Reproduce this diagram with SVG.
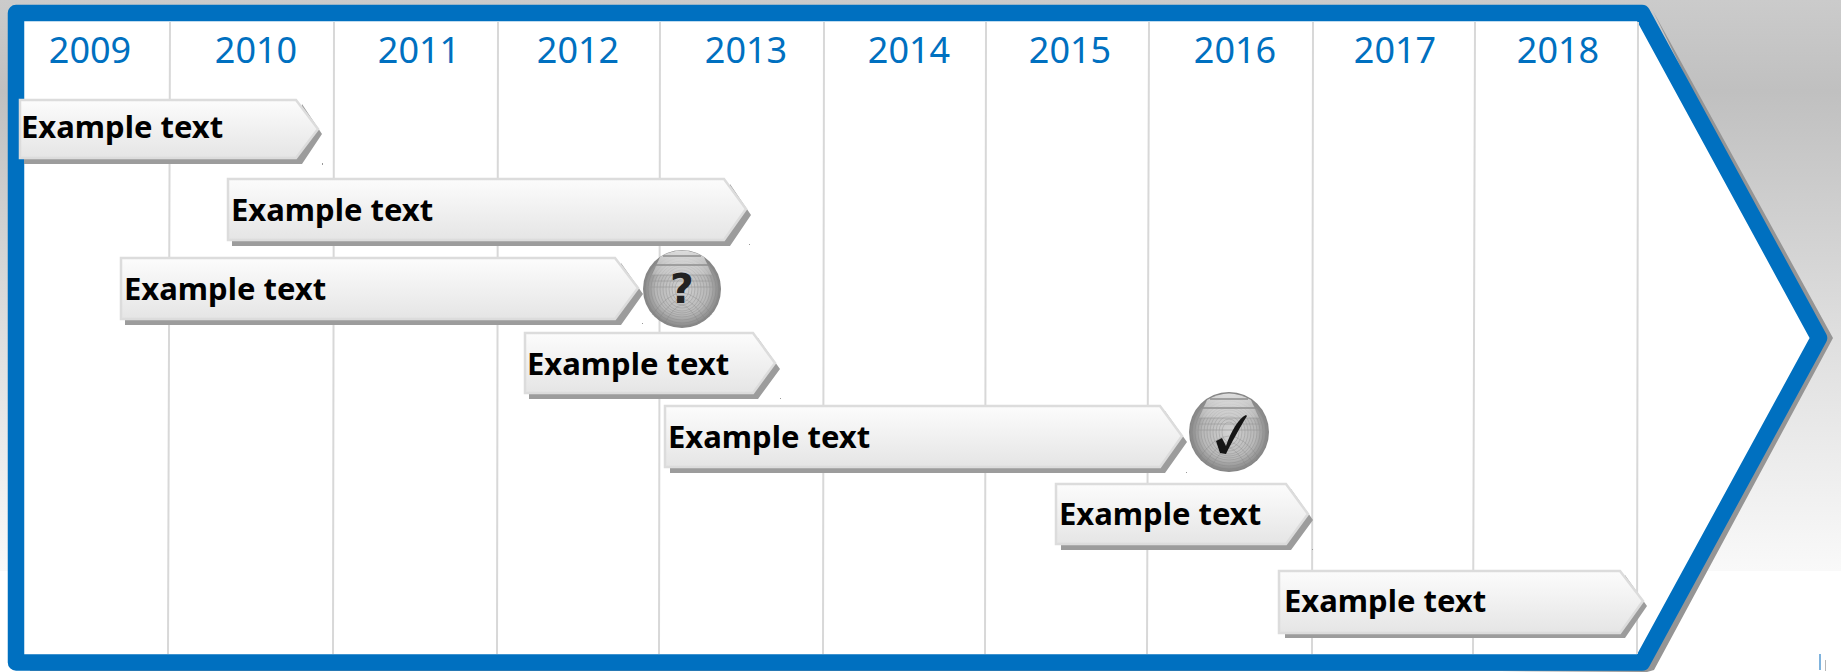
<svg xmlns="http://www.w3.org/2000/svg" width="1841" height="672" viewBox="0 0 1841 672">
<defs>
<linearGradient id="bg" x1="0" y1="0" x2="0" y2="1"><stop offset="0" stop-color="#cbcbcb"/><stop offset="0.16" stop-color="#c0c0c0"/><stop offset="0.55" stop-color="#dcdcdc"/><stop offset="1" stop-color="#f9f9f9"/></linearGradient>
<linearGradient id="bar" x1="0" y1="0" x2="0" y2="1"><stop offset="0" stop-color="#fcfcfc"/><stop offset="1" stop-color="#e5e5e5"/></linearGradient>
<radialGradient id="ball" cx="0.5" cy="0.5" r="0.52"><stop offset="0" stop-color="#d2d2d2"/><stop offset="0.65" stop-color="#b8b8b8"/><stop offset="1" stop-color="#7c7c7c"/></radialGradient>
<linearGradient id="shine" x1="0" y1="0" x2="0" y2="1"><stop offset="0" stop-color="#f4f4f4" stop-opacity="0.8"/><stop offset="1" stop-color="#dcdcdc" stop-opacity="0.35"/></linearGradient>
<g id="rings">
<circle class="ring" r="37"/><circle class="ring" r="34"/><circle class="ring" r="31"/><circle class="ring" r="28"/>
<ellipse class="ring" rx="25" ry="26"/><ellipse class="ring" rx="22" ry="24"/><ellipse class="ring" rx="19" ry="22"/><ellipse class="ring" rx="16" ry="19"/><ellipse class="ring" rx="13" ry="16"/><ellipse class="ring" rx="10" ry="13"/><ellipse class="ring" rx="7" ry="10"/>
<path class="ring" d="M-30 26Q-14 4 0 4Q14 4 30 26M-24 31Q-10 10 0 10Q10 10 24 31M-18 35Q-7 16 0 16Q7 16 18 35"/>
</g>
<g id="gloss">
<path d="M-22 -32Q0 -45 22 -32L30 -14H-30Z" fill="url(#shine)"/>
<path class="band" d="M-19 -33H19M-27 -24H27"/>
<path class="band2" d="M-30 -14H30M-32 -8H32M-34 -2H34"/>
</g>
</defs>
<style>
.yr{font-family:"Noto Sans","Open Sans",sans-serif;font-size:36px;fill:#0070c0;text-anchor:middle}
.lb{font-family:"Noto Sans","Open Sans",sans-serif;font-size:31px;font-weight:700;fill:#000}
.grid{stroke:#d8d8d8;stroke-width:2;fill:none}
.sh{fill:#9c9c9c}
.bar{fill:url(#bar);stroke:#dcdcdc;stroke-width:2.5}
.band{stroke:#8e8e8e;stroke-width:1.500;fill:none}
.band2{stroke:#9a9a9a;stroke-width:1;fill:none;opacity:.7}
.ring{stroke:#7e7e7e;stroke-width:.8;fill:none;opacity:.4}
.spk{fill:#999}
.gl{font-family:"DejaVu Sans",sans-serif;font-weight:700;fill:#222;text-anchor:middle}
</style>
<rect width="1841" height="571" fill="url(#bg)"/>
<rect y="571" width="1841" height="101" fill="#fff"/>
<g id="frame">
<path d="M1653 11L1833 338L1654 670L1647 672L1500 671H30V660H1640L1815 338Z" fill="#959595"/>
<path d="M16 13H1642L1819 338L1642 662.500H16Z" fill="#fff" stroke="#0070c0" stroke-width="16.500" stroke-linejoin="round"/>
</g>
<g id="grid">
<path class="grid" d="M170 22L168 654M334 22L333 654M498 22L497 654M660 22L659 654M824 22L823 654M986 22L985 654M1149 22L1147 654M1313 22L1312 654M1475 22L1473 654M1638 22L1637 654"/>
</g>
<g id="years">
<text class="yr" x="90" y="63">2009</text>
<text class="yr" x="256" y="63">2010</text>
<text class="yr" x="419" y="63">2011</text>
<text class="yr" x="578" y="63">2012</text>
<text class="yr" x="746" y="63">2013</text>
<text class="yr" x="909" y="63">2014</text>
<text class="yr" x="1070" y="63">2015</text>
<text class="yr" x="1235" y="63">2016</text>
<text class="yr" x="1395" y="63">2017</text>
<text class="yr" x="1558" y="63">2018</text>
</g>
<g id="bar1">
<path class="sh" d="M24 164V150H296L302 104L322 134L302 164Z"/>
<path class="bar" d="M20 100H296L318 129L296 158H20Z"/>
<text class="lb" x="21" y="138">Example text</text>
</g>
<g id="bar2">
<path class="sh" d="M232 246V230H724L730 184L751 215L730 246Z"/>
<path class="bar" d="M228 179H724L746 209L724 240H228Z"/>
<text class="lb" x="231" y="221">Example text</text>
</g>
<g id="bar3">
<path class="sh" d="M125 325V310H615L621 263L643 294L621 325Z"/>
<path class="bar" d="M121 258H615L638 288L615 319H121Z"/>
<text class="lb" x="124" y="300">Example text</text>
</g>
<g id="bar4">
<path class="sh" d="M529 399V385H753L758 338L780 369L758 399Z"/>
<path class="bar" d="M525 333H753L775 363L753 393H525Z"/>
<text class="lb" x="527" y="375">Example text</text>
</g>
<g id="bar5">
<path class="sh" d="M670 473V460H1160L1165 411L1187 442L1165 473Z"/>
<path class="bar" d="M665 406H1160L1182 436L1160 467H665Z"/>
<text class="lb" x="668" y="448">Example text</text>
</g>
<g id="bar6">
<path class="sh" d="M1061 550V537H1286L1291 489L1313 520L1291 550Z"/>
<path class="bar" d="M1056 484H1286L1308 514L1286 544H1056Z"/>
<text class="lb" x="1059" y="525">Example text</text>
</g>
<g id="bar7">
<path class="sh" d="M1285 638V625H1620L1625 575L1647 606L1625 638Z"/>
<path class="bar" d="M1279 571H1620L1643 601L1620 633H1279Z"/>
<text class="lb" x="1284" y="612">Example text</text>
</g>
<g id="badge-question">
<circle cx="682" cy="289" r="39" fill="url(#ball)"/>
<use href="#rings" x="682" y="289"/>
<use href="#gloss" x="682" y="289"/>
<text class="gl" x="682" y="303" font-size="41">?</text>
</g>
<g id="badge-check">
<circle cx="1229" cy="432" r="40" fill="url(#ball)"/>
<use href="#rings" x="1229" y="432"/>
<use href="#gloss" x="1229" y="432"/>
<path d="M1216 441L1222 438L1226 446C1231 431 1239 418 1246 415L1247 416C1240 427 1232 442 1226 454L1220 453Z" fill="#151515"/>
</g>
<g id="marks">
<rect class="spk" x="322" y="163" width="1" height="2"/>
<rect class="spk" x="749" y="244" width="1" height="1"/>
<rect class="spk" x="642" y="323" width="1" height="1"/>
<rect class="spk" x="780" y="398" width="1" height="1"/>
<rect class="spk" x="1186" y="472" width="1" height="1"/>
<rect class="spk" x="1312" y="549" width="1" height="1"/>
<rect x="1819" y="654" width="2" height="16" fill="#7fb3dd"/>
<rect x="1825" y="660" width="1" height="11" fill="#b8b8b8"/>
</g>
</svg>
